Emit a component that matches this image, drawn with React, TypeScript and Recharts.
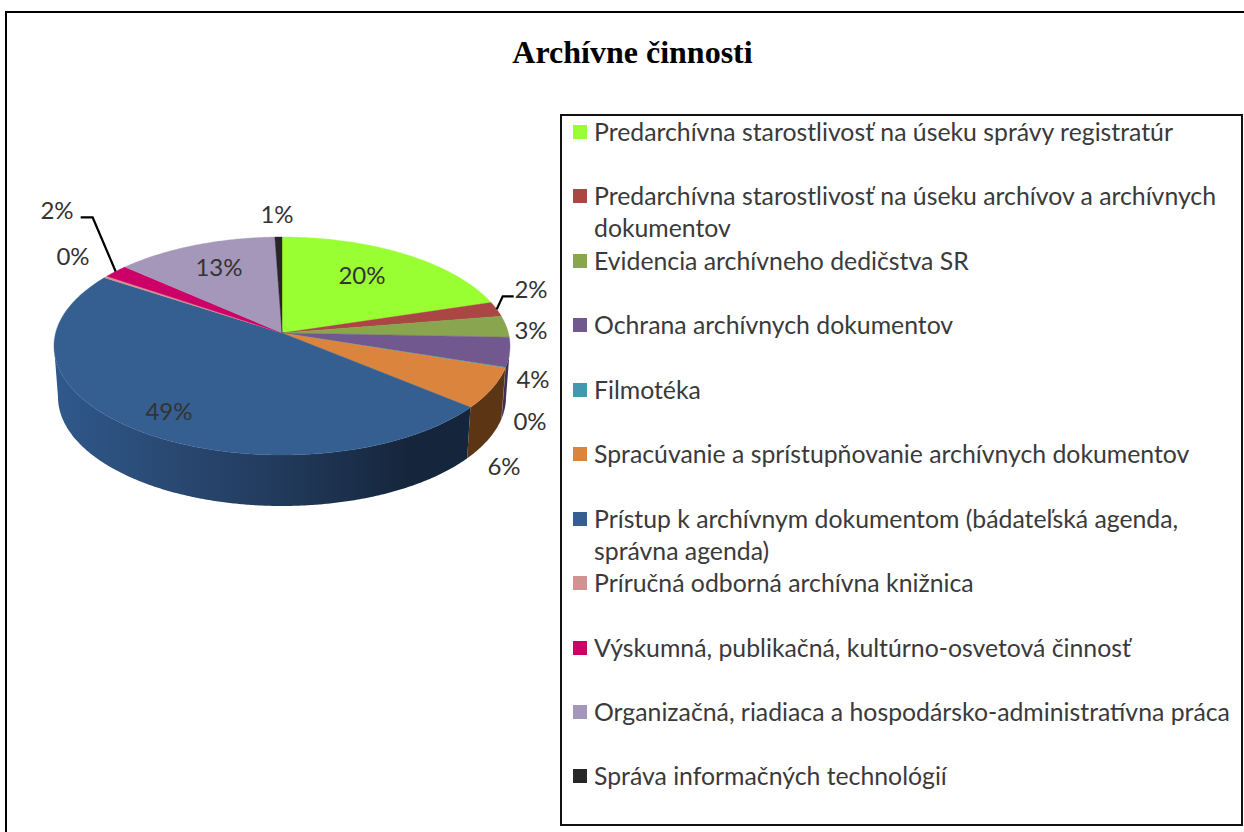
import { Legend, Pie, PieChart } from "recharts";

const categories = [
  "Predarchívna starostlivosť na úseku správy registratúr",
  "Predarchívna starostlivosť na úseku archívov a archívnych dokumentov",
  "Evidencia archívneho dedičstva SR",
  "Ochrana archívnych dokumentov",
  "Filmotéka",
  "Spracúvanie a sprístupňovanie archívnych dokumentov",
  "Prístup k archívnym dokumentom (bádateľská agenda,\nsprávna agenda)",
  "Príručná odborná archívna knižnica",
  "Výskumná, publikačná, kultúrno-osvetová činnosť",
  "Organizačná, riadiaca a hospodársko-administratívna práca",
  "Správa informačných technológií",
];
const shares = [19.7, 2.45, 3.4, 3.85, 0.1, 5.55, 49.35, 0.3, 2.0, 12.75, 0.55];
const faceColors = [
  "#99ff33", "#aa4643", "#89a54e", "#71588f", "#4198af", "#db843d",
  "#355f91", "#d09392", "#cc0066", "#a597ba", "#262626",
];
const wallColors = [
  "#5f8f1f", "#6a2b2a", "#55672f", "#3f3052", "#27606f", "#5c3514",
  "url(#blueWall)", "#7d5858", "#7a003d", "#675e75", "#111111",
];

const faceData = categories.map((name, i) => ({ name, value: shares[i], fill: faceColors[i] }));
const wallData = categories.map((name, i) => ({ name, value: shares[i], fill: wallColors[i] }));

// label centre relative to the pie apex, one per slice
const labelOffsets = [
  [80, -58], [249, -44], [249, -3], [251, 46], [248, 88], [222, 133],
  [-113, 78], [-209, -77], [-225, -123], [-63, -66], [-5, -119],
];

const RIM_SHIFT_Y = 13; // the rim ellipse sits lower than the apex
const UPPER_RIGHT_KEEP = 96 / 228;
const UPPER_LEFT_KEEP = 106 / 228;
const LOWER_KEEP = 123 / 228;
const RIM_RY = 109 / 228;
const DEPTH = 51;
const FLOOR_RX = 224 / 228;
const FONT = "Lato, sans-serif";

// point on the elliptical rim for a pie angle in degrees, clockwise from 12 o'clock
function rimPoint(cx: number, cy: number, r: number, deg: number) {
  const a = (deg * Math.PI) / 180;
  const upper = Math.cos(a) > 0;
  const keep = !upper ? LOWER_KEEP : Math.sin(a) < 0 ? UPPER_LEFT_KEEP : UPPER_RIGHT_KEEP;
  const dx = Math.sin(a) * r;
  const dy = -Math.cos(a) * r * keep;
  const ry = r * RIM_RY;
  const qa = (dx * dx) / (r * r) + (dy * dy) / (ry * ry);
  const qb = (2 * dy * -RIM_SHIFT_Y) / (ry * ry);
  const qc = (RIM_SHIFT_Y * RIM_SHIFT_Y) / (ry * ry) - 1;
  const s = (-qb + Math.sqrt(qb * qb - 4 * qa * qc)) / (2 * qa);
  return { x: cx + dx * s, y: cy + dy * s };
}

function sweep(props: any) {
  const from = 90 - props.startAngle;
  const to = 90 - props.endAngle;
  const steps = Math.max(2, Math.ceil(Math.abs(to - from) * 2));
  const out = [];
  for (let i = 0; i <= steps; i++) {
    out.push(rimPoint(props.cx, props.cy, props.outerRadius, from + ((to - from) * i) / steps));
  }
  return out;
}

function FaceShape(props: any) {
  const pts = sweep(props);
  const d = `M${props.cx},${props.cy} ` + pts.map((p) => `L${p.x},${p.y}`).join(" ") + " Z";
  return <path d={d} fill={props.fill} stroke={props.fill} strokeWidth={0.4} />;
}

function WallShape(props: any) {
  const rimY = props.cy + RIM_SHIFT_Y;
  const pts = sweep(props).filter((p) => p.y >= rimY);
  if (pts.length < 2) return <g />;
  const floor = pts
    .slice()
    .reverse()
    .map((p) => `L${props.cx + (p.x - props.cx) * FLOOR_RX},${p.y + DEPTH}`);
  const d = "M" + pts.map((p) => `${p.x},${p.y}`).join(" L") + " " + floor.join(" ") + " Z";
  return (
    <g>
      <defs>
        <linearGradient id="blueWall" gradientUnits="userSpaceOnUse" x1="58" y1="0" x2="472" y2="0">
          <stop offset="0" stopColor="#30588a" />
          <stop offset="0.5" stopColor="#233c5f" />
          <stop offset="0.85" stopColor="#15263c" />
          <stop offset="1" stopColor="#15263c" />
        </linearGradient>
      </defs>
      <path d={d} fill={props.fill} />
    </g>
  );
}

function SliceLabel(props: any) {
  const [dx, dy] = labelOffsets[props.index];
  const x = props.cx + dx;
  const y = props.cy + dy;
  const r = props.outerRadius;
  let leader = null;
  if (props.index === 1 || props.index === 8) {
    const rim = rimPoint(props.cx, props.cy, r, 90 - props.midAngle);
    leader =
      props.index === 1 ? (
        <polyline points={`${rim.x},${rim.y} ${rim.x + 6},${rim.y - 13} ${rim.x + 17},${rim.y - 13}`} fill="none" stroke="#000" strokeWidth={2.2} />
      ) : (
        <polyline points={`${rim.x},${rim.y} ${rim.x - 23},${rim.y - 54} ${rim.x - 35},${rim.y - 54}`} fill="none" stroke="#000" strokeWidth={2.2} />
      );
  }
  return (
    <g>
      {leader}
      <text x={x} y={y - 1} textAnchor="middle" dominantBaseline="central" fontFamily={FONT} fontSize={24} fill="#333">
        {`${Math.round(props.percent * 100)}%`}
      </text>
    </g>
  );
}

function LegendList({ payload }: any) {
  // only the top faces go in the list, in the data's order
  const items = (payload || []).filter((item: any) => faceColors.includes(item.color));
  return (
    <div style={{ boxSizing: "border-box", width: 683, height: 712, border: "2px solid #111", background: "#fff" }}>
      {items.map((item: any) => (
        <div key={item.value} style={{ position: "relative", height: 64.45, paddingLeft: 32, fontFamily: FONT, fontSize: 24.8, lineHeight: "32px", color: "#3a3a3a", textAlign: "left", whiteSpace: "pre-line" }}>
          <span style={{ position: "absolute", left: 11, top: 9, width: 14, height: 14, background: item.color }} />
          {item.value}
        </div>
      ))}
    </div>
  );
}

export default function App() {
  return (
    <div style={{ position: "absolute", left: 0, top: 0, width: 1244, height: 832, overflow: "hidden", background: "#fff" }}>
      <div style={{ position: "absolute", left: 5, top: 11, width: 1400, height: 1000, border: "2px solid #000" }} />
      <div style={{ position: "absolute", left: 0, width: 1265, top: 34, textAlign: "center", fontFamily: "'Liberation Serif', serif", fontWeight: 700, fontSize: 32, color: "#000" }}>
        Archívne činnosti
      </div>
      <div style={{ position: "absolute", left: 0, top: 0 }}>
        <PieChart width={1244} height={832} margin={{ top: 0, right: 0, bottom: 0, left: 0 }}>
          <Pie
            data={wallData}
            dataKey="value"
            nameKey="name"
            cx={282}
            cy={333}
            outerRadius={228}
            startAngle={90}
            endAngle={-270}
            stroke="none"
            legendType="none"
            isAnimationActive={false}
            shape={WallShape}
          />
          <Pie
            data={faceData}
            dataKey="value"
            nameKey="name"
            cx={282}
            cy={333}
            outerRadius={228}
            startAngle={90}
            endAngle={-270}
            stroke="none"
            isAnimationActive={false}
            shape={FaceShape}
            label={SliceLabel}
            labelLine={false}
          />
          <Legend
            layout="vertical"
            align="right"
            verticalAlign="top"
            itemSorter={null}
            wrapperStyle={{ position: "absolute", left: 560, top: 114, right: "auto", width: 683, height: 712 }}
            content={LegendList}
          />
        </PieChart>
      </div>
    </div>
  );
}
